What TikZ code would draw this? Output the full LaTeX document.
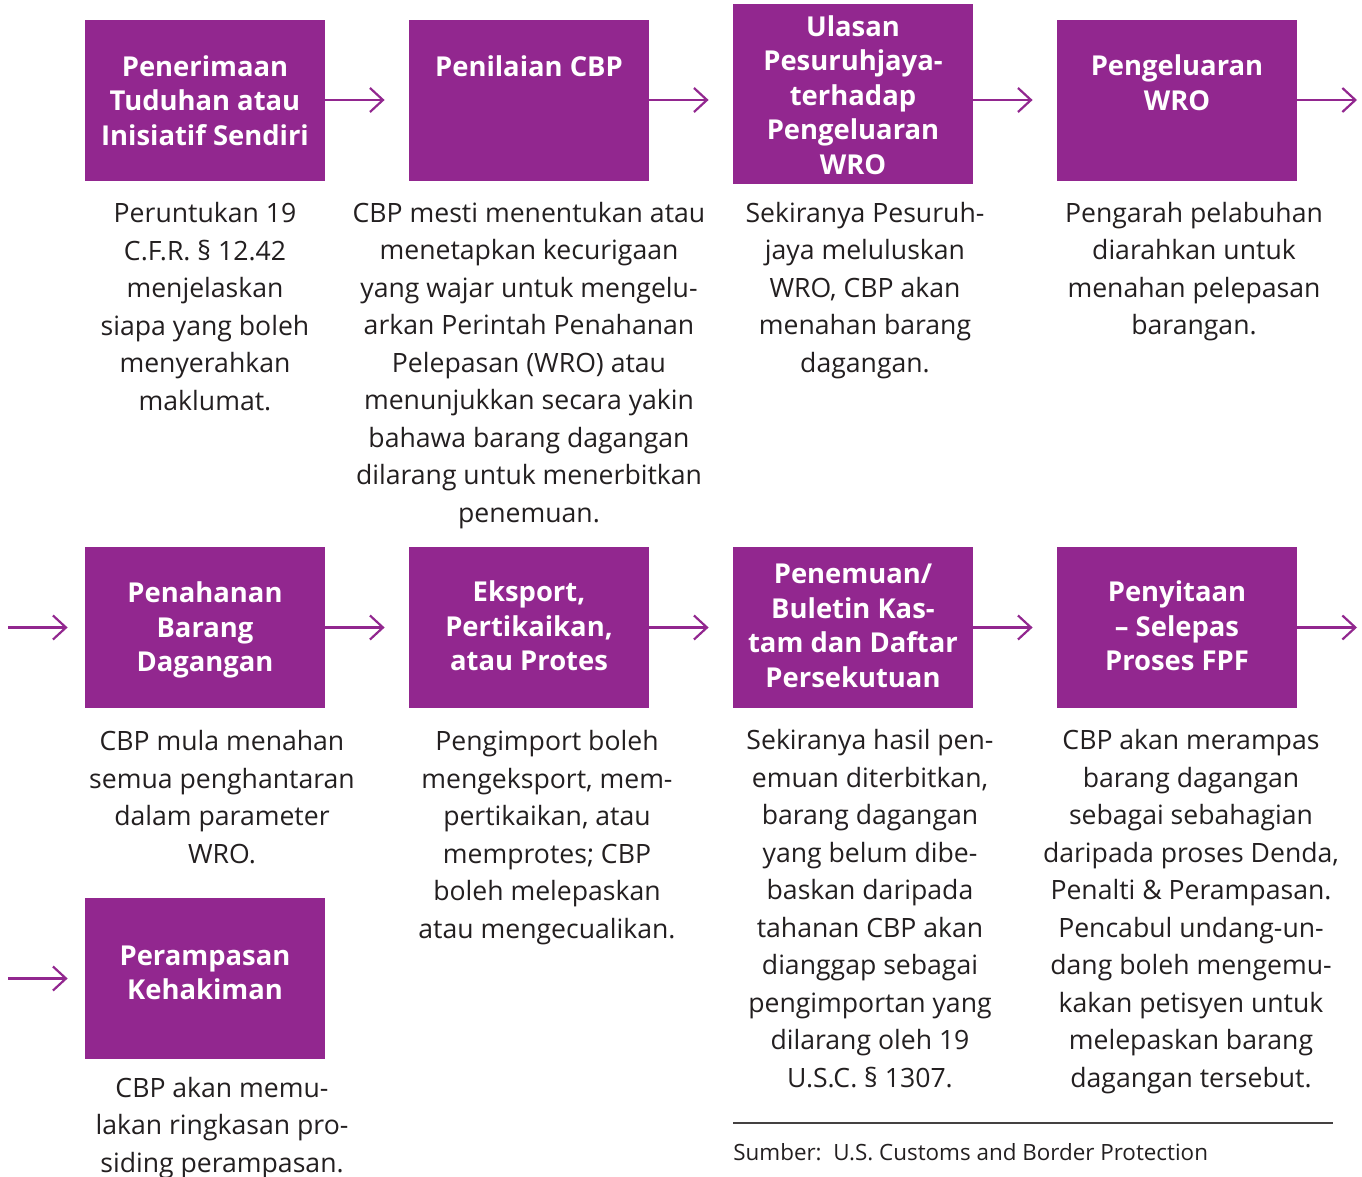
\documentclass[tikz,border=0pt]{standalone}
\usepackage{fontspec}
\setmainfont{Open Sans}
\usetikzlibrary{arrows.meta}
\definecolor{wropurple}{HTML}{92278F}
\definecolor{wrotext}{HTML}{231F20}
\pgfdeclarelayer{nodelayer}
\pgfdeclarelayer{edgelayer}
\pgfsetlayers{edgelayer,nodelayer,main}
\tikzstyle{step box}=[fill=wropurple, draw=none, shape=rectangle, minimum width=120pt, minimum height=80.5pt, inner sep=0pt]
\tikzstyle{tall box}=[step box, minimum height=90pt]
\tikzstyle{box title}=[text=white, font=\bfseries\fontsize{13.7}{17.25}\selectfont, align=center, anchor=base, inner sep=0pt]
\tikzstyle{note text}=[text=wrotext, font=\fontsize{13.3}{18.75}\selectfont, align=center, anchor=base, inner sep=0pt]
\tikzstyle{source text}=[text=wrotext, font=\fontsize{11.2}{13}\selectfont, anchor=base west, inner sep=0pt]
\tikzstyle{flow edge}=[draw=wropurple, line width=1.1pt, -{Straight Barb[length=6.5pt,width=12pt]}]

\begin{document}
\begin{tikzpicture}[x=0.5pt, y=-0.5pt]
	\useasboundingbox (0, 0) rectangle (1362, 1177);
	\begin{pgfonlayer}{nodelayer}
		% boxes
		\node [style=step box] (0) at (205, 100.5) {};
		\node [style=step box] (1) at (529, 100.5) {};
		\node [style=tall box] (2) at (853, 94) {};
		\node [style=step box] (3) at (1177, 100.5) {};
		\node [style=step box] (4) at (205, 627.5) {};
		\node [style=step box] (5) at (529, 627.5) {};
		\node [style=step box] (6) at (853, 627.5) {};
		\node [style=step box] (7) at (1177, 627.5) {};
		\node [style=step box] (8) at (205, 978.5) {};
		% titles (placed by the baseline of their last line)
		\node [style=box title] (t0) at (205, 145.5) {Penerimaan\\Tuduhan atau\\Inisiatif Sendiri};
		\node [style=box title] (t1) at (529, 76.5) {Penilaian CBP};
		\node [style=box title] (t2) at (853, 174.5) {Ulasan\\Pesuruhjaya-\\terhadap\\Pengeluaran\\WRO};
		\node [style=box title] (t3) at (1177, 110.5) {Pengeluaran\\WRO};
		\node [style=box title] (t4) at (205, 671.5) {Penahanan\\Barang\\Dagangan};
		\node [style=box title] (t5) at (529, 670.5) {Eksport,\\Pertikaikan,\\atau Protes};
		\node [style=box title] (t6) at (853, 687) {Penemuan/\\Buletin Kas-\\tam dan Daftar\\Persekutuan};
		\node [style=box title] (t7) at (1177, 670.5) {Penyitaan\\– Selepas\\Proses FPF};
		\node [style=box title] (t8) at (205, 999.5) {Perampasan\\Kehakiman};
		% notes
		\node [style=note text] (n0) at (205, 410) {Peruntukan 19\\C.F.R. § 12.42\\menjelaskan\\siapa yang boleh\\menyerahkan\\maklumat.};
		\node [style=note text] (n1) at (529, 522) {CBP mesti menentukan atau\\menetapkan kecurigaan\\yang wajar untuk mengelu-\\arkan Perintah Penahanan\\Pelepasan (WRO) atau\\menunjukkan secara yakin\\bahawa barang dagangan\\dilarang untuk menerbitkan\\penemuan.};
		\node [style=note text] (n2) at (865, 372) {Sekiranya Pesuruh-\\jaya meluluskan\\WRO, CBP akan\\menahan barang\\dagangan.};
		\node [style=note text] (n3) at (1194, 335) {Pengarah pelabuhan\\diarahkan untuk\\menahan pelepasan\\barangan.};
		\node [style=note text] (n4) at (222, 863) {CBP mula menahan\\semua penghantaran\\dalam parameter\\WRO.};
		\node [style=note text] (n5) at (547, 938) {Pengimport boleh\\mengeksport, mem-\\pertikaikan, atau\\memprotes; CBP\\boleh melepaskan\\atau mengecualikan.};
		\node [style=note text] (n6) at (870, 1087) {Sekiranya hasil pen-\\emuan diterbitkan,\\barang dagangan\\yang belum dibe-\\baskan daripada\\tahanan CBP akan\\dianggap sebagai\\pengimportan yang\\dilarang oleh 19\\U.S.C. § 1307.};
		\node [style=note text] (n7) at (1191, 1087) {CBP akan merampas\\barang dagangan\\sebagai sebahagian\\daripada proses Denda,\\Penalti \& Perampasan.\\Pencabul undang-un-\\dang boleh mengemu-\\kakan petisyen untuk\\melepaskan barang\\dagangan tersebut.};
		\node [style=note text] (n8) at (222, 1172) {CBP akan memu-\\lakan ringkasan pro-\\siding perampasan.};
		% source
		\node [style=source text] (src) at (733, 1160) {Sumber:\ \ U.S. Customs and Border Protection};
		\coordinate (e0) at (1357, 100);
		\coordinate (e1) at (1357, 627.5);
		\coordinate (s1) at (8, 627.5);
		\coordinate (s2) at (8, 978.5);
		\coordinate (r0) at (733, 1123);
		\coordinate (r1) at (1333, 1123);
	\end{pgfonlayer}
	\begin{pgfonlayer}{edgelayer}
		\draw [style=flow edge, shorten >=12pt] (0.east |- 0,100) to (1.west |- 0,100);
		\draw [style=flow edge, shorten >=12pt] (1.east |- 0,100) to (2.west |- 0,100);
		\draw [style=flow edge, shorten >=12pt] (2.east |- 0,100) to (3.west |- 0,100);
		\draw [style=flow edge] (3.east |- e0) to (e0);
		\draw [style=flow edge, shorten >=8.5pt] (s1) to (4.west);
		\draw [style=flow edge, shorten >=12pt] (4) to (5);
		\draw [style=flow edge, shorten >=12pt] (5) to (6);
		\draw [style=flow edge, shorten >=12pt] (6) to (7);
		\draw [style=flow edge] (7.east) to (e1);
		\draw [style=flow edge, shorten >=8.5pt] (s2) to (8.west);
		\draw [draw=wrotext!85, line width=0.8pt] (r0) to (r1);
	\end{pgfonlayer}
\end{tikzpicture}
\end{document}
